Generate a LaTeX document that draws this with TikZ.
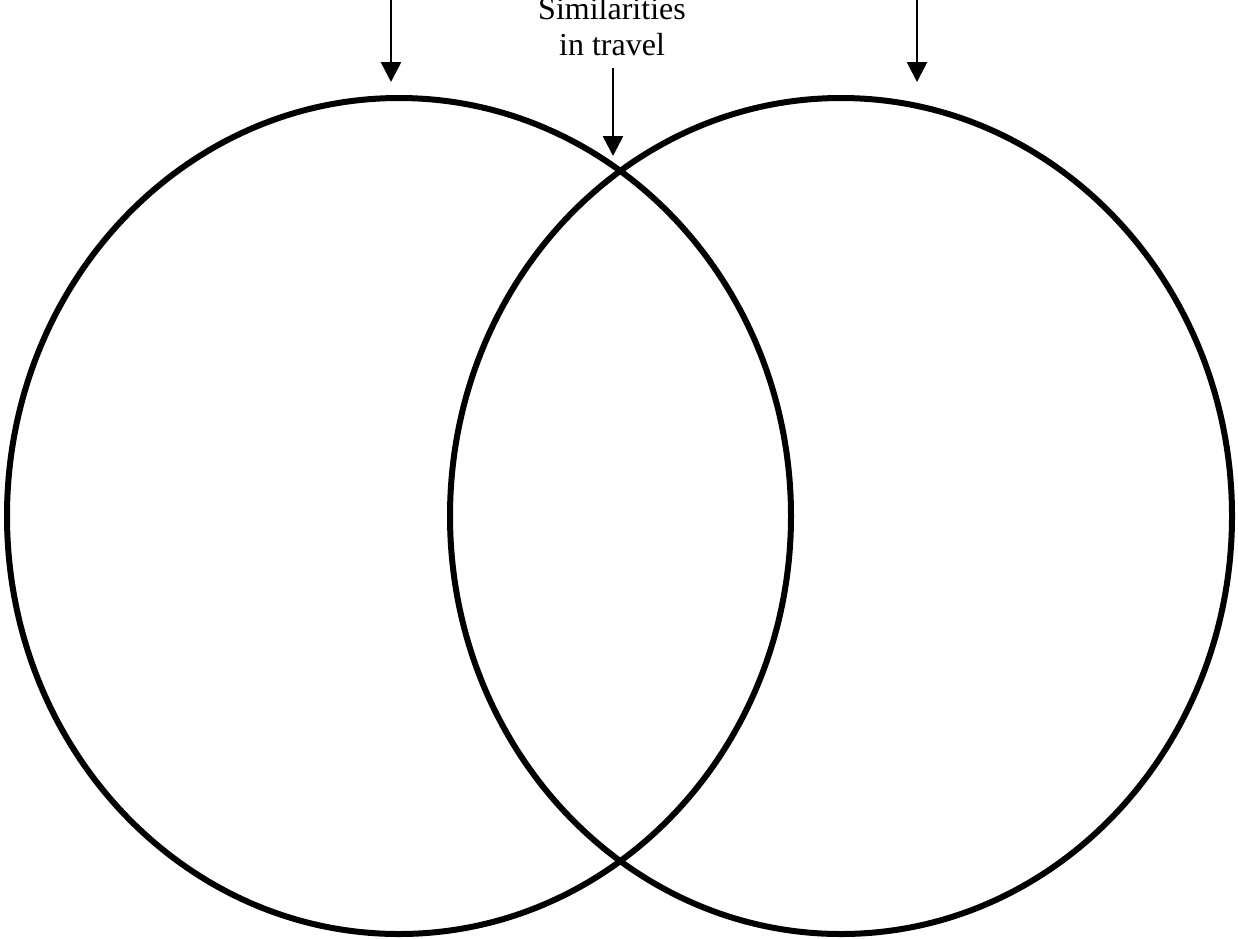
\documentclass[tikz,border=0pt]{standalone}
\usepackage{fontspec}
\setmainfont{Liberation Serif}
\usetikzlibrary{arrows.meta}
\begin{document}
\begin{tikzpicture}[x=1pt,y=-1pt,
  ring/.style={line width=6pt},
  pointer/.style={line width=2.6pt,-{Triangle[width=20pt,length=20pt]}},
  label/.style={font=\fontsize{32}{36}\selectfont,align=center,inner sep=0pt}]
\useasboundingbox (0,0) rectangle (1238,938);
\draw[ring] (399,516) ellipse [x radius=392, y radius=418];
\draw[ring] (841,516) ellipse [x radius=391, y radius=418];
\node[label,anchor=south] (sim) at (612,56) {Similarities\\in travel};
\coordinate (la) at (391,0);
\coordinate (lt) at (391,82);
\coordinate (ra) at (917,0);
\coordinate (rt) at (917,82);
\coordinate (ms) at (613,68);
\coordinate (mt) at (613,156);
\draw[pointer] (la) -- (lt);
\draw[pointer] (ra) -- (rt);
\draw[pointer] (ms) -- (mt);
\end{tikzpicture}
\end{document}
